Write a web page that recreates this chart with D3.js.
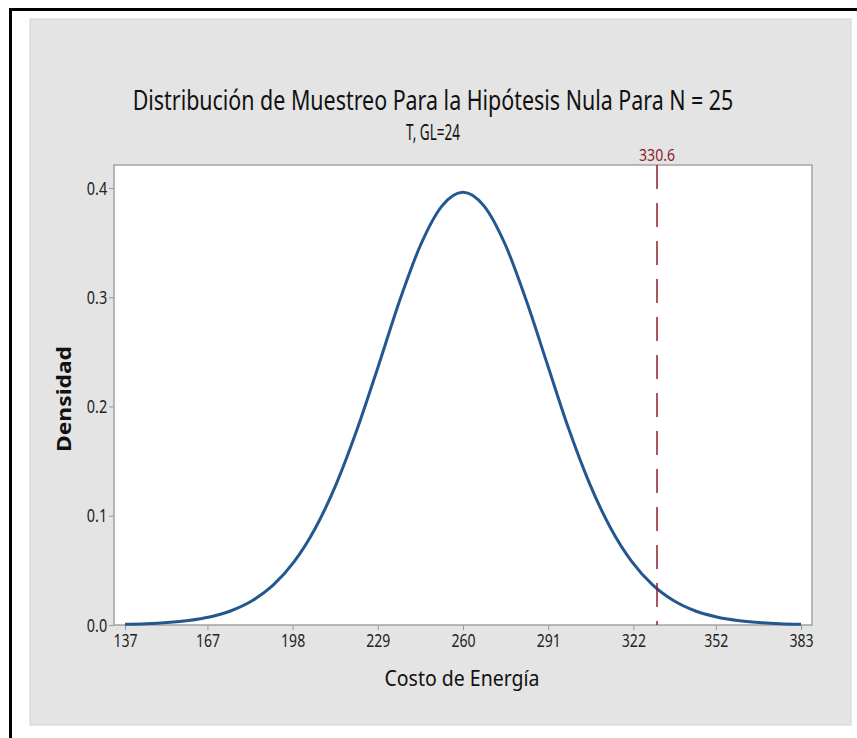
<!DOCTYPE html>
<html>
<head>
<meta charset="utf-8">
<script src="https://cdn.jsdelivr.net/npm/d3@7"></script>
<style>
  body { margin: 0; background: #fff; }
  svg text { font-family: "Noto Sans", "Open Sans", sans-serif; }
</style>
</head>
<body>
<script>
// chart data
var costValues = [137, 144.7, 152.4, 160.1, 167.8, 175.4, 183.1, 190.8, 198.5, 206.2, 213.9, 221.6, 229.3, 236.9, 244.6, 252.3,
                  260, 267.7, 275.4, 283.1, 290.8, 298.4, 306.1, 313.8, 321.5, 329.2, 336.9, 344.6, 352.3, 359.9, 367.6, 375.3, 383];
var densityValues = [0.0007, 0.0012, 0.0023, 0.0042, 0.0074, 0.0128, 0.0219, 0.0362, 0.0577, 0.0883, 0.1292, 0.1800, 0.2378, 0.2965, 0.3480, 0.3834,
                     0.3961, 0.3834, 0.3480, 0.2965, 0.2378, 0.1800, 0.1292, 0.0883, 0.0577, 0.0362, 0.0219, 0.0128, 0.0074, 0.0042, 0.0023, 0.0012, 0.0007];
var xTickValues = [137, 167, 198, 229, 260, 291, 322, 352, 383];
var yTickValues = [0, 0.1, 0.2, 0.3, 0.4];
var criticalValue = 330.6;
var titleText = "Distribución de Muestreo Para la Hipótesis Nula Para N = 25";
var subtitleText = "T, GL=24";
var xTitle = "Costo de Energía";
var yTitle = "Densidad";

var width = 857, height = 738;
var plot = { left: 114, right: 812, top: 165, bottom: 625 };

var svg = d3.select("body").append("svg")
    .attr("width", width)
    .attr("height", height);

// outer frame (only top and left edges visible in the picture)
svg.append("rect").attr("x", 0).attr("y", 0).attr("width", width).attr("height", height).attr("fill", "#fff");
svg.append("rect")
    .attr("x", 30).attr("y", 19).attr("width", 821).attr("height", 706)
    .attr("fill", "#e4e4e4").attr("stroke", "#d2d2d2");
svg.append("line").attr("x1", 9).attr("x2", width).attr("y1", 9.5).attr("y2", 9.5)
    .attr("stroke", "#000").attr("stroke-width", 3);
svg.append("line").attr("x1", 10.5).attr("x2", 10.5).attr("y1", 8).attr("y2", height)
    .attr("stroke", "#000").attr("stroke-width", 3);

var x = d3.scaleLinear().domain([133, 387]).range([plot.left, plot.right]);
var y = d3.scaleLinear().domain([0, 0.421]).range([plot.bottom, plot.top]);

svg.append("rect")
    .attr("x", plot.left).attr("y", plot.top)
    .attr("width", plot.right - plot.left).attr("height", plot.bottom - plot.top)
    .attr("fill", "#fff").attr("stroke", "#a3a3a3").attr("stroke-width", 1.5);

// axes
var xAxis = svg.append("g")
    .attr("transform", "translate(0," + plot.bottom + ")")
    .call(d3.axisBottom(x).tickValues(xTickValues).tickFormat(d3.format("d")).tickSize(5).tickPadding(4));
var yAxis = svg.append("g")
    .attr("transform", "translate(" + plot.left + ",0)")
    .call(d3.axisLeft(y).tickValues(yTickValues).tickFormat(d3.format(".1f")).tickSize(5).tickPadding(4));

[xAxis, yAxis].forEach(function (a) {
    a.select(".domain").remove();
    a.selectAll(".tick line").attr("stroke", "#9a9a9a");
    a.selectAll(".tick text").attr("fill", "#222").style("font-size", "19px");
});
// squeeze the labels like the narrow Minitab font
xAxis.selectAll(".tick text").attr("transform", "scale(0.74,1)");
yAxis.selectAll(".tick text").attr("transform", "scale(0.76,1)");

// density curve
var line = d3.line()
    .x(function (d) { return x(d[0]); })
    .y(function (d) { return y(d[1]); })
    .curve(d3.curveMonotoneX);

svg.append("path")
    .datum(d3.zip(costValues, densityValues))
    .attr("d", line)
    .attr("fill", "none")
    .attr("stroke", "#22588e")
    .attr("stroke-width", 3);

// text squeezed horizontally to a given width, centred on (cx, cy)
function narrowText(txt, cx, cy, w, size, opts) {
    opts = opts || {};
    var t = svg.append("text")
        .attr("text-anchor", "middle")
        .attr("fill", opts.fill || "#111")
        .style("font-size", size + "px")
        .style("font-weight", opts.bold ? "bold" : "normal")
        .text(txt);
    var k = w / t.node().getComputedTextLength();
    t.attr("transform", "translate(" + cx + "," + cy + ")" + (opts.rotate ? " rotate(-90)" : "") + " scale(" + k + ",1)");
    return t;
}

// critical value reference line
svg.append("line")
    .attr("x1", x(criticalValue)).attr("x2", x(criticalValue))
    .attr("y1", plot.top).attr("y2", plot.bottom)
    .attr("stroke", "#8e1b2b").attr("stroke-width", 1.5)
    .attr("stroke-dasharray", "24,14");
narrowText(criticalValue, x(criticalValue), 161, 36, 16, { fill: "#8e1b2b" });

// titles
narrowText(titleText, 433, 110, 601, 27);
narrowText(subtitleText, 433, 140, 54, 21);
narrowText(xTitle, 462, 686, 155, 21);
narrowText(yTitle, 71, 399, 106, 19, { bold: true, rotate: true });
</script>
</body>
</html>
